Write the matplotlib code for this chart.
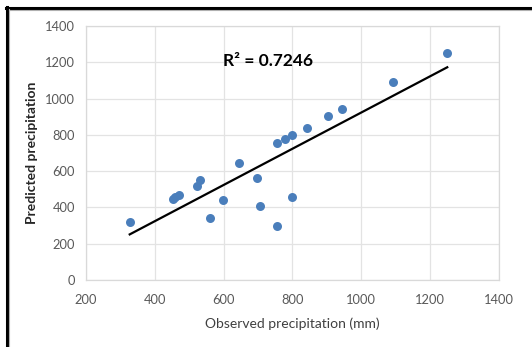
import matplotlib
matplotlib.use("Agg")
import matplotlib.pyplot as plt
from matplotlib.lines import Line2D
import numpy as np

plt.rcParams['font.family'] = ['Lato', 'DejaVu Sans']

# observed vs predicted precipitation (mm)
observed = [327, 452, 460, 470, 522, 530, 560, 599, 646, 697, 707,
            755, 755, 779, 800, 800, 841, 903, 944, 1093, 1250]
predicted = [322, 447, 460, 471, 520, 553, 343, 442, 645, 564, 410,
             300, 755, 775, 799, 456, 839, 902, 942, 1094, 1250]
r2_text = "R² = 0.7246"

x_ticks = [200, 400, 600, 800, 1000, 1200, 1400]
y_ticks = [0, 200, 400, 600, 800, 1000, 1200, 1400]

obs = np.array(observed)
pred = np.array(predicted)
slope, intercept = np.polyfit(obs, pred, 1)
line_x = np.array([obs.min(), obs.max()])

fig = plt.figure(figsize=(5.32, 3.47), dpi=100)
ax = fig.add_axes([0.1617, 0.193, 0.776, 0.732])

ax.scatter(obs, pred, s=42, color='#4a7ebb', zorder=3, linewidths=0)
ax.plot(line_x, slope * line_x + intercept, color='black', lw=1.6, zorder=2)

ax.set_xlim(200, 1400)
ax.set_ylim(0, 1400)
ax.set_xticks(x_ticks)
ax.set_yticks(y_ticks)
ax.grid(True, color='#e3e3e3', lw=0.9)
ax.set_axisbelow(True)
for side in ['top', 'right', 'left', 'bottom']:
    ax.spines[side].set_color('#d9d9d9')
    ax.spines[side].set_linewidth(0.9)
ax.tick_params(length=0, labelsize=9.3, colors='#595959')
ax.tick_params(axis='x', pad=10)
ax.tick_params(axis='y', pad=8)

ax.set_xlabel('Observed precipitation (mm)', fontsize=10, color='#404040', labelpad=8)
ax.set_ylabel('Predicted precipitation', fontsize=10, color='#262626',
              fontweight='bold', labelpad=5)

ax.text(730, 1205, r2_text, fontsize=12.5, fontweight='bold', color='black',
        ha='center', va='center')

# outer frame lines
fig.add_artist(Line2D([7 / 532, 7 / 532], [0, 1 - 7 / 347], color='black', lw=2.2,
                      transform=fig.transFigure))
fig.add_artist(Line2D([6 / 532, 1], [1 - 8 / 347, 1 - 8 / 347], color='black', lw=2.2,
                      transform=fig.transFigure))
fig.add_artist(Line2D([9 / 532, 9 / 532], [0, 1 - 9 / 347], color='#b0b0b0', lw=0.8,
                      transform=fig.transFigure))
fig.add_artist(Line2D([9 / 532, 1], [1 - 10 / 347, 1 - 10 / 347], color='#b0b0b0', lw=0.8,
                      transform=fig.transFigure))

fig.savefig('out.png', dpi=100)
